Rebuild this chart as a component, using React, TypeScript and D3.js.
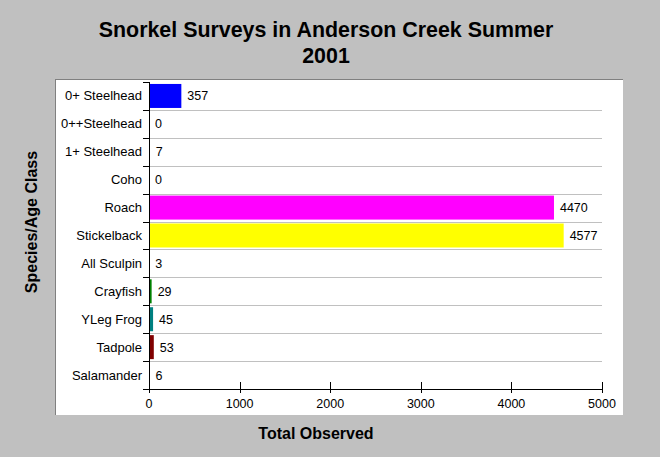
import * as d3 from "d3";

const categories = [
  "0+ Steelhead",
  "0++Steelhead",
  "1+ Steelhead",
  "Coho",
  "Roach",
  "Stickelback",
  "All Sculpin",
  "Crayfish",
  "YLeg Frog",
  "Tadpole",
  "Salamander",
];
const counts = [357, 0, 7, 0, 4470, 4577, 3, 29, 45, 53, 6];
const barColors = [
  "#0000ff",
  "#ff0000",
  "#ffffff",
  "#800080",
  "#ff00ff",
  "#ffff00",
  "#000080",
  "#008000",
  "#008080",
  "#800000",
  "#ffffff",
];
const xTicks = [0, 1000, 2000, 3000, 4000, 5000];

const W = 660;
const H = 457;
const plot = { left: 149, right: 602, top: 82, bottom: 389 };
const font = "'Liberation Sans', Arial, sans-serif";

export default function App() {
  const x = d3.scaleLinear().domain([0, 5000]).range([plot.left, plot.right]);
  const y = d3
    .scaleBand<string>()
    .domain(categories)
    .range([plot.top, plot.bottom])
    .paddingInner(0.14)
    .paddingOuter(0.07);
  const step = y.step();
  const rowTop = (c: string) => plot.top + categories.indexOf(c) * step;

  return (
    <svg
      width={W}
      height={H}
      style={{ position: "absolute", left: 0, top: 0 }}
      fontFamily={font}
    >
      <rect x={0} y={0} width={W} height={H} fill="#c0c0c0" />
      {/* plot panel */}
      <rect x={55} y={79} width={568} height={336} fill="#ffffff" />
      <line x1={55} x2={623} y1={79.5} y2={79.5} stroke="#808080" />
      <line x1={55.5} x2={55.5} y1={79} y2={415} stroke="#808080" />

      {/* title */}
      <text x={326} y={37} textAnchor="middle" fontSize={21.4} fontWeight="bold">
        Snorkel Surveys in Anderson Creek Summer
      </text>
      <text x={326} y={63} textAnchor="middle" fontSize={21.4} fontWeight="bold">
        2001
      </text>

      {/* gridlines */}
      {categories.slice(1).map((c) => (
        <line
          key={"g" + c}
          x1={plot.left}
          x2={plot.right}
          y1={Math.round(rowTop(c)) + 0.5}
          y2={Math.round(rowTop(c)) + 0.5}
          stroke="#c0c0c0"
        />
      ))}

      {/* bars */}
      {categories.map((c, i) => (
        <rect
          key={"b" + c}
          x={x(0)}
          y={y(c)!}
          width={x(counts[i]) - x(0)}
          height={y.bandwidth()}
          fill={barColors[i]}
        />
      ))}

      {/* value labels */}
      {categories.map((c, i) => (
        <text
          key={"v" + c}
          x={x(counts[i]) + 6}
          y={y(c)! + y.bandwidth() / 2 + 4.5}
          fontSize={12.5}
        >
          {counts[i]}
        </text>
      ))}

      {/* y axis */}
      <line x1={plot.left + 0.5} x2={plot.left + 0.5} y1={plot.top} y2={plot.bottom} stroke="#000" />
      {d3.range(categories.length + 1).map((k) => (
        <line
          key={"yt" + k}
          x1={plot.left - 6}
          x2={plot.left + 1}
          y1={Math.round(plot.top + k * step) + 0.5}
          y2={Math.round(plot.top + k * step) + 0.5}
          stroke="#000"
        />
      ))}
      {categories.map((c) => (
        <text
          key={"l" + c}
          x={142}
          y={rowTop(c) + step / 2 + 4.5}
          textAnchor="end"
          fontSize={13}
        >
          {c}
        </text>
      ))}

      {/* x axis */}
      <line x1={plot.left} x2={plot.right + 1} y1={plot.bottom + 0.5} y2={plot.bottom + 0.5} stroke="#000" />
      {xTicks.map((t) => (
        <g key={"xt" + t}>
          <line
            x1={Math.round(x(t)) + 0.5}
            x2={Math.round(x(t)) + 0.5}
            y1={382}
            y2={393}
            stroke="#000"
          />
          <text x={x(t)} y={408} textAnchor="middle" fontSize={12.5}>
            {t}
          </text>
        </g>
      ))}

      {/* axis titles */}
      <text x={316} y={439} textAnchor="middle" fontSize={16} fontWeight="bold">
        Total Observed
      </text>
      <text
        transform="translate(37,222) rotate(-90)"
        textAnchor="middle"
        fontSize={16}
        fontWeight="bold"
      >
        Species/Age Class
      </text>
    </svg>
  );
}
